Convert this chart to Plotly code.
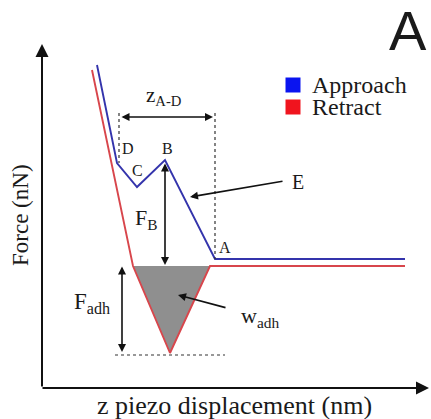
import plotly.graph_objects as go

# Schematic force–distance curve (arbitrary units, origin at the axes corner)
approach_z = [55, 75, 95, 123, 173, 363]
approach_f = [322, 224, 200, 227, 128, 128]

retract_z = [50, 91, 128, 168, 363]
retract_f = [317, 121, 34, 121, 121]

# Adhesion work region (area under the retract dip)
adh_z = [91, 128, 168, 91]
adh_f = [121, 34, 121, 121]

point_names = ["D", "C", "B", "A"]
point_index = [1, 2, 3, 4]

BLUE = "#3434ac"
RED = "#d8464c"
SERIF = "Liberation Serif"
SANS = "Liberation Sans"

fig = go.Figure()

fig.add_trace(go.Scatter(x=adh_z, y=adh_f, mode="lines", fill="toself",
                         fillcolor="#8f8f8f", line=dict(width=0),
                         hoverinfo="skip"))
fig.add_trace(go.Scatter(x=retract_z, y=retract_f, mode="lines",
                         line=dict(color=RED, width=1.9), name="Retract"))
fig.add_trace(go.Scatter(x=approach_z, y=approach_f, mode="lines",
                         line=dict(color=BLUE, width=1.9), name="Approach"))

# dotted guide lines
d_z, d_f = approach_z[1], approach_f[1]
a_z, a_f = approach_z[4], approach_f[4]
min_f = min(retract_f)
guides = [
    ([d_z + 2, d_z + 2], [274, d_f]),
    ([a_z, a_z], [274, a_f]),
    ([73, 183], [min_f - 2, min_f - 2]),
]
for gx, gy in guides:
    fig.add_trace(go.Scatter(x=gx, y=gy, mode="lines",
                             line=dict(color="#333333", width=1.2, dash="dot"),
                             hoverinfo="skip"))

ann = []


def arrow(x, y, ax, ay, both=False, width=1.6, head=2, size=1.0):
    ann.append(dict(x=x, y=y, ax=ax, ay=ay, xref="x", yref="y",
                    axref="x", ayref="y", text="", showarrow=True,
                    arrowhead=head, arrowsize=size, arrowwidth=width,
                    arrowcolor="#111111",
                    arrowside="end+start" if both else "end",
                    startarrowhead=head, startarrowsize=size))


def label(x, y, text, size=17, family=SERIF, **kw):
    ann.append(dict(x=x, y=y, xref="x", yref="y", text=text, showarrow=False,
                    font=dict(family=family, size=size, color="#1a1a1a"), **kw))


# axes with arrowheads
arrow(0, 343, 0, -1, width=2, head=2, size=1.3)
arrow(387, -1, -1, -1, width=2, head=2, size=1.3)

# dimension arrows
arrow(171, 270, 78, 270, both=True)
arrow(approach_z[3], 122, approach_z[3], approach_f[3] - 2, both=True)
arrow(80, min_f + 1, 80, 122, both=True)
arrow(148, 190, 242, 206)
arrow(136, 92, 185, 79)

# point labels
offsets = {"D": (11, 15), "C": (0, 17), "B": (2, 12), "A": (10, 12)}
for name, i in zip(point_names, point_index):
    dx, dy = offsets[name]
    label(approach_z[i] + dx, approach_f[i] + dy, name, size=16)

label(122, 291, "z<sub>A-D</sub>", size=21)
label(256, 205, "E", size=20)
label(104, 168, "F<sub>B</sub>", size=22)
label(50, 84, "F<sub>adh</sub>", size=23)
label(218, 70, "w<sub>adh</sub>", size=22)

# legend entries
for yy, col, txt in [(302, "#0a14f0", "Approach"), (280, "#f0141e", "Retract")]:
    fig.add_trace(go.Scatter(x=[251], y=[yy], mode="markers",
                             marker=dict(symbol="square", size=15, color=col),
                             hoverinfo="skip"))
    label(268, yy, txt, size=24, xanchor="left")

label(366, 357, "A", size=56, family=SANS)

label(-22, 172, "Force (nN)", size=23, textangle=-90)
label(192, -18, "z piezo displacement (nm)", size=26)

fig.update_layout(
    width=431, height=419,
    margin=dict(l=0, r=0, t=0, b=0),
    paper_bgcolor="white", plot_bgcolor="white",
    showlegend=False,
    font=dict(family=SERIF),
    annotations=ann,
    xaxis=dict(range=[-42, 389], visible=False, fixedrange=True),
    yaxis=dict(range=[-32, 387], visible=False, fixedrange=True),
)

fig.write_html("out.html")
